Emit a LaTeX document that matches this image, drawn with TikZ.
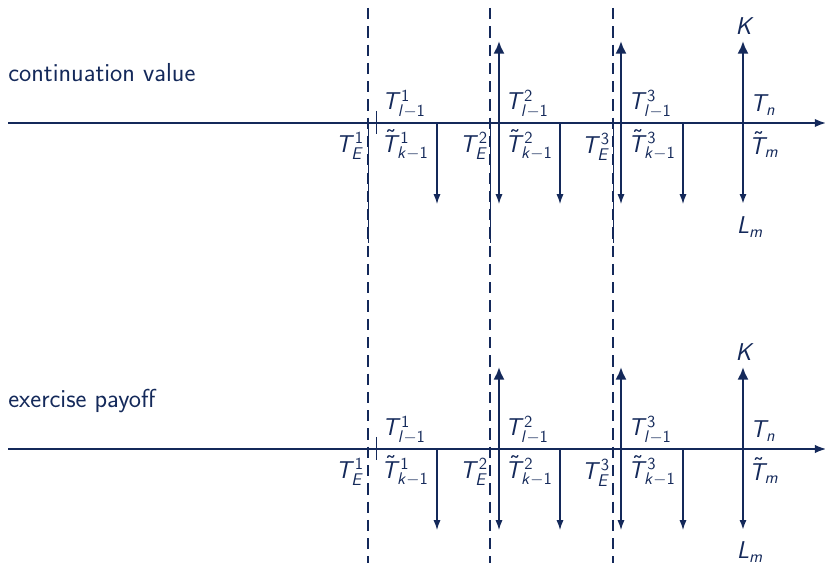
\documentclass[tikz,border=0pt]{standalone}
\usepackage{amsmath}
\usepackage{tikz}
\usetikzlibrary{arrows.meta, positioning}
\DeclareSymbolFont{operators}{OT1}{cmss}{m}{n}
\DeclareSymbolFont{letters}{OT1}{cmss}{m}{sl}
\DeclareMathSizes{17}{17}{12.5}{10}
\definecolor{navyBlue}{HTML}{14295A}

\begin{document}
\begin{tikzpicture}[
    x=0.025cm, y=-0.025cm,
    every node/.style={text=navyBlue, inner sep=0pt, font=\sffamily\fontsize{17}{20}\selectfont},
    title/.style={anchor=base west, font=\sffamily\fontsize{18.5}{22}\selectfont},
    axis/.style={-{Latex[length=8pt,width=6pt]}, draw=navyBlue},
    flow/.style={-{Latex[length=7pt,width=5pt]}, line width=0.75pt, draw=navyBlue},
    bigflow/.style={-{Latex[length=9pt,width=8pt]}, line width=1.8pt, draw=navyBlue},
    exdate/.style={draw=navyBlue, line width=0.8pt, dash pattern=on 8pt off 5pt},
    mark line/.style={draw=navyBlue, line width=0.6pt},
]
\useasboundingbox (0,0) rectangle (825,563);

% Exercise dates (dashed, across both lines)
\path (368,8) coordinate (dsh1Top) (368,563) coordinate (dsh1Bot);
\path (490,8) coordinate (dsh2Top) (490,563) coordinate (dsh2Bot);
\path (613,8) coordinate (dsh3Top) (613,563) coordinate (dsh3Bot);
\draw[exdate] (dsh1Top) -- (dsh1Bot);
\draw[exdate] (dsh2Top) -- (dsh2Bot);
\draw[exdate] (dsh3Top) -- (dsh3Bot);

% Continuation value
\node[title] (contTitle) at (8,82) {continuation value};
\path (8,123) coordinate (cStart) (826,123) coordinate (cEnd);
\draw[axis, line width=1.2pt] (cStart) -- (cEnd);

\path (376,111) coordinate (cTickTop) (376,134) coordinate (cTickBot);
\path (368,123) coordinate (cEx1) (368,243) coordinate (cEx1End);
\path (490,123) coordinate (cEx2) (490,243) coordinate (cEx2End);
\path (613,123) coordinate (cEx3) (613,243) coordinate (cEx3End);
\draw[mark line] (cTickTop) -- (cTickBot);
\draw[mark line] (cEx1) -- (cEx1End);
\draw[mark line] (cEx2) -- (cEx2End);
\draw[mark line] (cEx3) -- (cEx3End);

\path (437,123) coordinate (cPay1) (437,204) coordinate (cPay1End);
\path (560,123) coordinate (cPay2) (560,204) coordinate (cPay2End);
\path (683,123) coordinate (cPay3) (683,204) coordinate (cPay3End);
\path (499,123) coordinate (cFix2) (499,204) coordinate (cFix2Down) (499,41) coordinate (cFix2Up);
\path (621,123) coordinate (cFix3) (621,204) coordinate (cFix3Down) (621,41) coordinate (cFix3Up);
\path (743,123) coordinate (cLast) (743,204) coordinate (cLastDown) (743,41) coordinate (cLastUp);
\draw[flow] (cPay1) -- (cPay1End);
\draw[flow] (cPay2) -- (cPay2End);
\draw[flow] (cPay3) -- (cPay3End);
\draw[flow] (cFix2) -- (cFix2Down);
\draw[flow] (cFix3) -- (cFix3Down);
\draw[bigflow] (cFix2) -- (cFix2Up);
\draw[bigflow] (cFix3) -- (cFix3Up);
\draw[bigflow] (cLast) -- (cLastUp);
\draw[flow, line width=1.5pt] (cLast) -- (cLastDown);

\node (cLabE1) at (350,146) {$T_E^1$};
\node (cLabL1) at (404,104) {$T_{l-1}^1$};
\node (cLabK1) at (405,145) {$\tilde{T}_{k-1}^1$};
\node (cLabE2) at (474,146) {$T_E^2$};
\node (cLabL2) at (527,104) {$T_{l-1}^2$};
\node (cLabK2) at (529,145) {$\tilde{T}_{k-1}^2$};
\node (cLabE3) at (596,147) {$T_E^3$};
\node (cLabL3) at (650,104) {$T_{l-1}^3$};
\node (cLabK3) at (652,145) {$\tilde{T}_{k-1}^3$};
\node (cLabK) at (745,26) {$K$};
\node (cLabTn) at (763,105) {$T_n$};
\node (cLabTm) at (764,145) {$\tilde{T}_m$};
\node (cLabLm) at (750,227) {$L_m$};

% Exercise payoff
\node[title] (exTitle) at (8,408) {exercise payoff};
\path (8,449) coordinate (eStart) (826,449) coordinate (eEnd);
\draw[axis, line width=0.8pt] (eStart) -- (eEnd);

\path (376,437) coordinate (eTickTop) (376,460) coordinate (eTickBot);
\draw[mark line] (eTickTop) -- (eTickBot);

\path (437,449) coordinate (ePay1) (437,530) coordinate (ePay1End);
\path (560,449) coordinate (ePay2) (560,530) coordinate (ePay2End);
\path (683,449) coordinate (ePay3) (683,530) coordinate (ePay3End);
\path (499,449) coordinate (eFix2) (499,530) coordinate (eFix2Down) (499,367) coordinate (eFix2Up);
\path (621,449) coordinate (eFix3) (621,530) coordinate (eFix3Down) (621,367) coordinate (eFix3Up);
\path (743,449) coordinate (eLast) (743,530) coordinate (eLastDown) (743,367) coordinate (eLastUp);
\draw[flow] (ePay1) -- (ePay1End);
\draw[flow] (ePay2) -- (ePay2End);
\draw[flow] (ePay3) -- (ePay3End);
\draw[flow] (eFix2) -- (eFix2Down);
\draw[flow] (eFix3) -- (eFix3Down);
\draw[bigflow] (eFix2) -- (eFix2Up);
\draw[bigflow] (eFix3) -- (eFix3Up);
\draw[bigflow] (eLast) -- (eLastUp);
\draw[flow, line width=1.5pt] (eLast) -- (eLastDown);

\node (eLabE1) at (350,472) {$T_E^1$};
\node (eLabL1) at (404,430) {$T_{l-1}^1$};
\node (eLabK1) at (405,471) {$\tilde{T}_{k-1}^1$};
\node (eLabE2) at (474,472) {$T_E^2$};
\node (eLabL2) at (527,430) {$T_{l-1}^2$};
\node (eLabK2) at (529,471) {$\tilde{T}_{k-1}^2$};
\node (eLabE3) at (596,473) {$T_E^3$};
\node (eLabL3) at (650,430) {$T_{l-1}^3$};
\node (eLabK3) at (652,471) {$\tilde{T}_{k-1}^3$};
\node (eLabK) at (745,352) {$K$};
\node (eLabTn) at (763,431) {$T_n$};
\node (eLabTm) at (764,471) {$\tilde{T}_m$};
\node (eLabLm) at (750,552) {$L_m$};

\end{tikzpicture}
\end{document}
